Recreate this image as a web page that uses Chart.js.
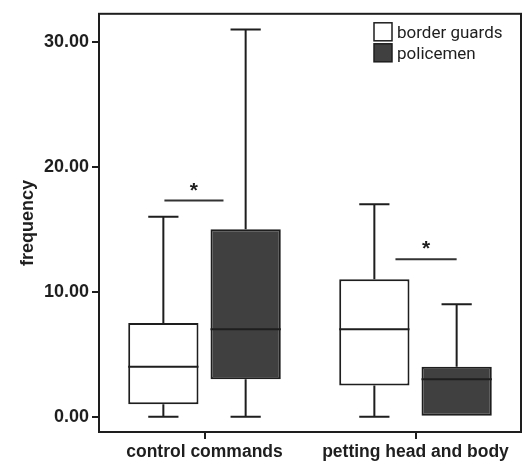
<!DOCTYPE html>
<html>
<head>
<meta charset="utf-8">
<script src="https://cdn.jsdelivr.net/npm/chart.js@4.4.1/dist/chart.umd.min.js"></script>
<style>
  html, body { margin: 0; padding: 0; background: #ffffff; }
  #wrap { width: 525px; height: 465px; }
</style>
</head>
<body>
<div id="wrap"><canvas id="c" width="525" height="465"></canvas></div>
<script>
// ---- data ----
const categories = ['control commands', 'petting head and body'];
const seriesNames = ['border guards', 'policemen'];
// box-plot statistics per series, one entry per category
const guardsMin    = [0, 0];
const guardsQ1     = [1, 2.5];
const guardsMedian = [4, 7];
const guardsQ3     = [7.5, 11];
const guardsMax    = [16, 17];
const policeMin    = [0, 0];
const policeQ1     = [3, 0];
const policeMedian = [7, 3];
const policeQ3     = [15, 4];
const policeMax    = [31, 9];
// significance markers: level on y axis, per category
const sigLevels = [17.3, 12.6];
const sigLabels = ['*', '*'];
const yTicks = [0, 10, 20, 30];

const INK = '#1e1e1e';
const DARK = '#404040';
const FONT = '"Liberation Sans", Arial, sans-serif';

const boxes = [
  { min: guardsMin, q1: guardsQ1, med: guardsMedian, q3: guardsQ3, max: guardsMax },
  { min: policeMin, q1: policeQ1, med: policeMedian, q3: policeQ3, max: policeMax }
];

const boxPlugin = {
  id: 'boxExtras',
  afterDatasetsDraw(chart) {
    const ctx = chart.ctx;
    const y = chart.scales.y, x = chart.scales.x;
    const area = chart.chartArea;
    ctx.save();
    ctx.strokeStyle = INK;
    ctx.lineWidth = 2;
    ctx.lineCap = 'butt';
    boxes.forEach((b, di) => {
      const meta = chart.getDatasetMeta(di);
      meta.data.forEach((bar, i) => {
        const cx = bar.x, w = bar.width;
        const capHalf = w * 0.215;
        const pMin = y.getPixelForValue(b.min[i]);
        const pQ1 = y.getPixelForValue(b.q1[i]);
        const pMed = y.getPixelForValue(b.med[i]);
        const pQ3 = y.getPixelForValue(b.q3[i]);
        const pMax = y.getPixelForValue(b.max[i]);
        ctx.beginPath();
        if (b.max[i] > b.q3[i]) {
          ctx.moveTo(cx, pQ3); ctx.lineTo(cx, pMax);
          ctx.moveTo(cx - capHalf, pMax); ctx.lineTo(cx + capHalf, pMax);
        }
        if (b.min[i] < b.q1[i]) {
          ctx.moveTo(cx, pQ1); ctx.lineTo(cx, pMin);
          ctx.moveTo(cx - capHalf, pMin); ctx.lineTo(cx + capHalf, pMin);
        }
        ctx.moveTo(cx - w / 2, pMed); ctx.lineTo(cx + w / 2, pMed);
        ctx.stroke();
      });
    });
    // significance bars
    const catW = x.getPixelForValue(1) - x.getPixelForValue(0);
    const sigSpans = [[-0.19, 0.09], [-0.095, 0.195]];
    ctx.lineWidth = 2;
    ctx.strokeStyle = '#333';
    sigLevels.forEach((lv, i) => {
      const c = x.getPixelForValue(i);
      const x0 = c + sigSpans[i][0] * catW, x1 = c + sigSpans[i][1] * catW;
      const py = y.getPixelForValue(lv);
      ctx.beginPath(); ctx.moveTo(x0, py); ctx.lineTo(x1, py); ctx.stroke();
      ctx.fillStyle = INK;
      ctx.font = 'bold 21px ' + FONT;
      ctx.textAlign = 'center';
      ctx.textBaseline = 'alphabetic';
      ctx.fillText(sigLabels[i], (x0 + x1) / 2, py - 4);
    });
    // frame
    ctx.strokeStyle = INK;
    ctx.lineWidth = 2;
    ctx.strokeRect(area.left, area.top, area.right - area.left, area.bottom - area.top);
    // legend
    const lx = area.right - 147, ly = area.top + 9;
    chart.data.datasets.forEach((ds, i) => {
      const sy = ly + i * 21;
      ctx.fillStyle = ds.backgroundColor;
      ctx.fillRect(lx, sy, 18, 18);
      ctx.lineWidth = 1.5;
      ctx.strokeStyle = INK;
      ctx.strokeRect(lx, sy, 18, 18);
      ctx.fillStyle = INK;
      ctx.font = '17px Roboto, ' + FONT;
      ctx.textAlign = 'left';
      ctx.textBaseline = 'alphabetic';
      ctx.fillText(ds.label, lx + 23, sy + 15);
    });
    ctx.restore();
  }
};

new Chart(document.getElementById('c'), {
  type: 'bar',
  data: {
    labels: categories,
    datasets: [
      {
        label: seriesNames[0],
        data: guardsQ1.map((q, i) => [q, guardsQ3[i]]),
        backgroundColor: '#ffffff',
        borderColor: INK,
        borderWidth: 2,
        borderSkipped: false
      },
      {
        label: seriesNames[1],
        data: policeQ1.map((q, i) => [q, policeQ3[i]]),
        backgroundColor: DARK,
        borderColor: INK,
        borderWidth: 2,
        borderSkipped: false
      }
    ]
  },
  options: {
    responsive: false,
    animation: false,
    devicePixelRatio: 1,
    layout: { padding: { top: 11, right: 4, left: 0, bottom: 0 } },
    datasets: { bar: { categoryPercentage: 0.78, barPercentage: 0.854 } },
    plugins: { legend: { display: false }, tooltip: { enabled: false } },
    scales: {
      x: {
        offset: true,
        grid: { display: true, drawOnChartArea: false, drawTicks: true, tickLength: 7, offset: false, color: INK, lineWidth: 2 },
        border: { display: true, color: INK, width: 2 },
        ticks: { color: INK, font: { family: FONT, size: 17.5, weight: 'bold' }, padding: 3, maxRotation: 0 },
        afterFit(s) { s.height = 33; }
      },
      y: {
        min: -1.22,
        max: 32.25,
        afterBuildTicks(s) { s.ticks = yTicks.map(v => ({ value: v })); },
        grid: { display: true, drawOnChartArea: false, drawTicks: true, tickLength: 7, color: INK, lineWidth: 2 },
        border: { display: true, color: INK, width: 2 },
        ticks: {
          color: INK,
          font: { family: FONT, size: 18, weight: 'bold' },
          padding: 3,
          callback: v => Number(v).toFixed(2)
        },
        title: { display: true, text: 'frequency', color: INK, font: { family: FONT, size: 18, weight: 'bold' }, padding: { top: 17, bottom: 0 } },
        afterFit(s) { s.width = 99; }
      }
    }
  },
  plugins: [boxPlugin]
});
</script>
</body>
</html>
